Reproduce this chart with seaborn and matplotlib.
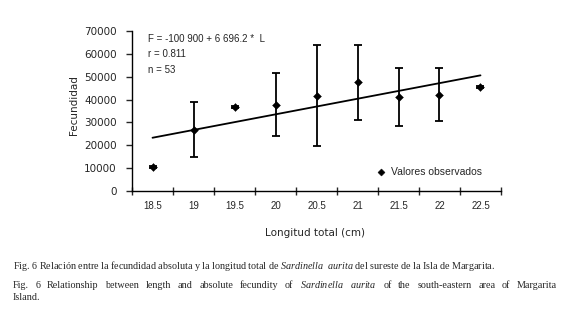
import numpy as np
import seaborn as sns
import matplotlib.pyplot as plt

# longitud total (cm) y fecundidad observada
lengths = [18.5, 19, 19.5, 20, 20.5, 21, 21.5, 22, 22.5]
fecundity = [10600, 26700, 36900, 37600, 41400, 47600, 41000, 42100, 45400]
upper = [11000, 39100, 37300, 51800, 64000, 64000, 53900, 53700, 45800]
lower = [10200, 15000, 36500, 24100, 19800, 31200, 28600, 30800, 45000]
# recta ajustada (extremos)
fit_x = [18.5, 22.5]
fit_y = [23300, 50600]
yticks = [0, 10000, 20000, 30000, 40000, 50000, 60000, 70000]

sns.set_style('ticks')
plt.rcParams['font.family'] = ['DejaVu Sans']
plt.rcParams['mathtext.fontset'] = 'custom'
plt.rcParams['mathtext.rm'] = 'Liberation Serif'
plt.rcParams['mathtext.it'] = 'Liberation Serif:italic'

fig = plt.figure(figsize=(5.71, 3.32), dpi=100)
ax = fig.add_axes([0.2312, 0.4247, 0.6462, 0.4819])

fec = np.array(fecundity)
yerr = [fec - np.array(lower), np.array(upper) - fec]
ax.errorbar(lengths, fecundity, yerr=yerr, fmt='none', ecolor='black',
            elinewidth=1.3, capsize=2.7, capthick=1.3, zorder=2)
sns.lineplot(x=fit_x, y=fit_y, color='black', lw=1.3, ax=ax, zorder=1)
sns.scatterplot(x=lengths, y=fecundity, marker='D', s=16, color='black',
                edgecolor='black', label='Valores observados', ax=ax, zorder=3)

# eje x tipo categorias: marcas entre valores
step = 0.25
bounds = [l - step for l in lengths] + [lengths[-1] + step]
ax.set_xlim(bounds[0], bounds[-1])
ax.set_xticks(bounds)
ax.set_xticklabels([])
ax.set_xticks(lengths, minor=True)
ax.set_xticklabels([f'{l:g}' for l in lengths], minor=True,
                   family='Liberation Sans', fontsize=7)
ax.tick_params(axis='x', which='major', direction='inout', length=6, width=1)
ax.tick_params(axis='x', which='minor', length=0, pad=7)

ax.set_ylim(0, 70000)
ax.set_yticks(yticks)
ax.set_yticklabels([str(v) for v in yticks], fontsize=7.5)
ax.tick_params(axis='y', direction='out', length=4, width=1, pad=7)

for s in ['left', 'bottom']:
    ax.spines[s].set_linewidth(1)
    ax.spines[s].set_color('black')
sns.despine(ax=ax)

ax.set_xlabel('Longitud total (cm)', fontsize=7.5)
ax.set_ylabel('Fecundidad', fontsize=7.5)
ax.xaxis.set_label_coords(0.495, -0.23)
ax.yaxis.set_label_coords(-0.145, 0.535)

ax.legend(loc='center right', bbox_to_anchor=(0.975, 0.12), frameon=False,
          handletextpad=0.0, markerscale=0.9,
          prop={'family': 'Liberation Sans', 'size': 7.5})

ann = dict(transform=ax.transAxes, family='Liberation Sans', fontsize=7.0,
           va='center')
ax.text(0.042, 0.95, 'F = -100 900 + 6 696.2 *  L', **ann)
ax.text(0.042, 0.855, 'r = 0.811', **ann)
ax.text(0.042, 0.755, 'n = 53', **ann)

cap = dict(family='Liberation Serif', fontsize=7.3, va='center')
fig.text(13 / 571, 1 - 266 / 332,
         r'Fig. 6 Relación entre la fecundidad absoluta y la longitud total de '
         r'$\mathit{Sardinella\ \ aurita}$ del sureste de la Isla de Margarita.',
         **cap)

# segunda leyenda justificada
line2 = ('Fig. 6 Relationship between length and absolute fecundity of '
         '$\\mathit{Sardinella}$ $\\mathit{aurita}$ of the south-eastern area of Margarita')
words = line2.split(' ')
renderer = fig.canvas.get_renderer()
x0, x1 = 13 / 571, 557 / 571
arts = [fig.text(0, 1 - 285 / 332, w, **cap) for w in words]
widths = [a.get_window_extent(renderer).width / fig.bbox.width for a in arts]
gap = (x1 - x0 - sum(widths)) / (len(words) - 1)
pos = x0
for a, w in zip(arts, widths):
    a.set_x(pos)
    pos += w + gap
fig.text(13 / 571, 1 - 297 / 332, 'Island.', **cap)

fig.savefig('out.png', dpi=100)
